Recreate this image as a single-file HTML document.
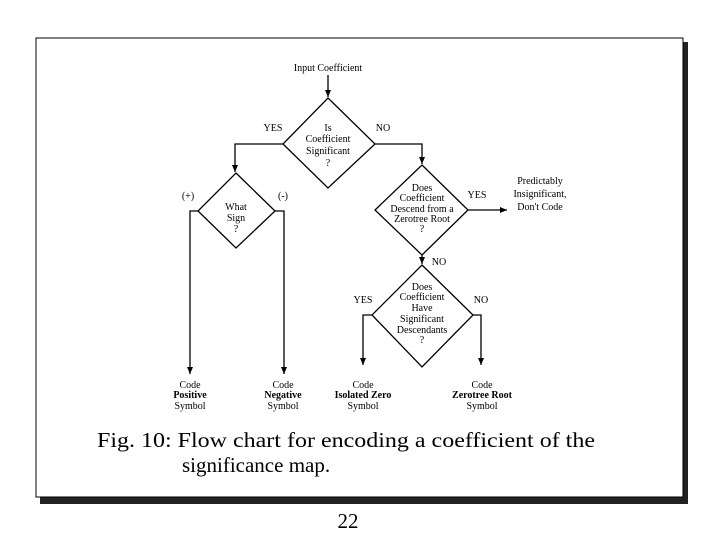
<!DOCTYPE html>
<html><head><meta charset="utf-8"><style>
html,body{margin:0;padding:0;background:#fff;width:720px;height:540px;overflow:hidden}
svg{display:block}
text{font-family:"Liberation Serif",serif;fill:#000}
.s{font-size:10px}
.b{font-weight:bold}
</style></head><body>
<svg width="720" height="540" viewBox="0 0 720 540">
<defs><marker id="a" markerWidth="8" markerHeight="8" refX="7" refY="4" orient="auto" markerUnits="userSpaceOnUse"><path d="M0,1 L7,4 L0,7 z" fill="#000"/></marker></defs>
<!-- frame shadow -->
<rect x="40" y="42" width="648" height="462" fill="#222"/>
<rect x="36" y="38" width="647" height="459" fill="#fff" stroke="#000" stroke-width="1"/>
<g stroke="#000" stroke-width="1.3" fill="none">
<line x1="328" y1="75" x2="328" y2="97" marker-end="url(#a)"/>
<polygon points="328,98 375,144 328,188 283,144"/>
<polyline points="283,144 235,144 235,172" marker-end="url(#a)"/>
<polygon points="236,173 275,211 236,248 198,211"/>
<polyline points="198,211 190,211 190,374" marker-end="url(#a)"/>
<polyline points="275,211 284,211 284,374" marker-end="url(#a)"/>
<polyline points="375,144 422,144 422,164" marker-end="url(#a)"/>
<polygon points="422,165 468,210 422,255 375,210"/>
<line x1="468" y1="210" x2="507" y2="210" marker-end="url(#a)"/>
<line x1="422" y1="255" x2="422" y2="264" marker-end="url(#a)"/>
<polygon points="422,265 473,315 422,367 372,315"/>
<polyline points="372,315 363,315 363,365" marker-end="url(#a)"/>
<polyline points="473,315 481,315 481,365" marker-end="url(#a)"/>
</g>
<g class="s" text-anchor="middle">
<text x="328" y="71">Input Coefficient</text>
<text x="328" y="131">Is</text>
<text x="328" y="142">Coefficient</text>
<text x="328" y="154">Significant</text>
<text x="328" y="166">?</text>
<text x="273" y="131">YES</text>
<text x="383" y="131">NO</text>
<text x="188" y="199">(+)</text>
<text x="283" y="199">(-)</text>
<text x="236" y="210">What</text>
<text x="236" y="221">Sign</text>
<text x="236" y="232">?</text>
<text x="422" y="191">Does</text>
<text x="422" y="201">Coefficient</text>
<text x="422" y="212">Descend from a</text>
<text x="422" y="222">Zerotree Root</text>
<text x="422" y="232">?</text>
<text x="477" y="198">YES</text>
<text x="540" y="184">Predictably</text>
<text x="540" y="197">Insignificant,</text>
<text x="540" y="210">Don't Code</text>
<text x="439" y="265">NO</text>
<text x="422" y="290">Does</text>
<text x="422" y="300">Coefficient</text>
<text x="422" y="311">Have</text>
<text x="422" y="322">Significant</text>
<text x="422" y="333">Descendants</text>
<text x="422" y="343">?</text>
<text x="363" y="303">YES</text>
<text x="481" y="303">NO</text>
<text x="190" y="388">Code</text><text x="190" y="398" class="b">Positive</text><text x="190" y="409">Symbol</text>
<text x="283" y="388">Code</text><text x="283" y="398" class="b">Negative</text><text x="283" y="409">Symbol</text>
<text x="363" y="388">Code</text><text x="363" y="398" class="b">Isolated Zero</text><text x="363" y="409">Symbol</text>
<text x="482" y="388">Code</text><text x="482" y="398" class="b">Zerotree Root</text><text x="482" y="409">Symbol</text>
</g>
<text x="97" y="447" font-size="21" textLength="498" lengthAdjust="spacingAndGlyphs">Fig. 10: Flow chart for encoding a coefficient of the</text>
<text x="182" y="472" font-size="21">significance map.</text>
<text x="348" y="528" font-size="21" text-anchor="middle">22</text>
</svg>
</body></html>
